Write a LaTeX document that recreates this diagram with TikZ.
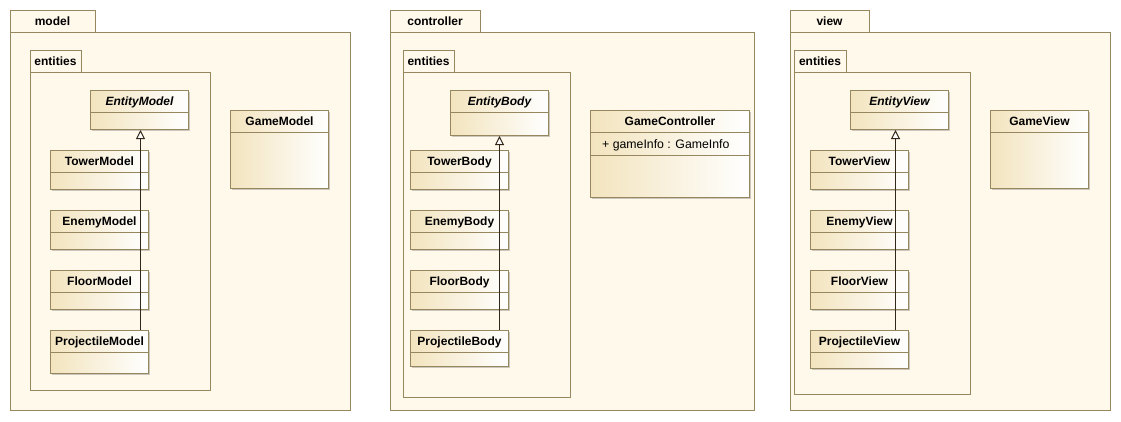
\documentclass[tikz,border=0pt]{standalone}
\usepackage{fontspec}
\setmainfont{Liberation Sans}
\usetikzlibrary{arrows.meta,calc,shadows}
\definecolor{pkgfill}{RGB}{255,249,235}
\definecolor{pkgline}{RGB}{150,135,95}
\definecolor{clsleft}{RGB}{243,228,190}
\definecolor{inkline}{RGB}{50,40,25}
\tikzset{
  pkg/.style={draw=pkgline, fill=pkgfill, line width=1pt, anchor=north west, inner sep=0pt},
  pkgtab/.style={pkg, font=\bfseries\fontsize{12}{14}\selectfont, anchor=center},
  cls/.style={draw=pkgline, line width=1pt, left color=clsleft, right color=white, anchor=north west, inner sep=0pt,
    drop shadow={shadow xshift=1.5pt, shadow yshift=-1.5pt, fill=black, opacity=0.2}},
  clsname/.style={font=\bfseries\fontsize{12}{14}\selectfont, inner sep=0pt, anchor=base},
  attr/.style={font=\fontsize{12.3}{14}\selectfont, inner sep=0pt, anchor=base west},
  divider/.style={draw=pkgline, line width=1pt},
  inh/.style={draw=inkline, line width=1pt, -{Triangle[length=9pt, width=9pt, fill=white]}}
}
% #1 name, #2 x, #3 y, #4 w, #5 h, #6 title
\newcommand\umlcls[6]{%
  \node[cls, minimum width=#4pt, minimum height=#5pt] (#1) at (#2,#3) {};
  \node[clsname] (#1-t) at ($(#1.north)+(0,15)$) {#6};
  \draw[divider] ($(#1.north west)+(0,22)$) -- ($(#1.north east)+(0,22)$);
}
\begin{document}
\begin{tikzpicture}[x=1pt,y=-1pt]
\useasboundingbox (0,0) rectangle (1121,421);

% ---------------- model ----------------
\node[pkg, minimum width=340pt, minimum height=378pt] (mbody) at (10,32) {};
\node[pkgtab, minimum width=85pt, minimum height=22pt] (mtab) at (52.5,21) {model};
\node[pkg, minimum width=180pt, minimum height=318pt] (mebody) at (30,72) {};
\node[pkgtab, minimum width=51pt, minimum height=22pt] (metab) at (55.5,61) {entities};
\umlcls{em}{90}{90}{98}{39}{\itshape EntityModel}
\umlcls{tm}{50}{150}{98}{39}{TowerModel}
\umlcls{enm}{50}{210}{98}{39}{EnemyModel}
\umlcls{fm}{50}{270}{98}{39}{FloorModel}
\umlcls{pm}{50}{330}{98}{43}{ProjectileModel}
\umlcls{gm}{230}{110}{98}{78}{GameModel}
\coordinate (mx) at ($(em.south)+(1,0)$);
\draw[inh] (pm.north -| mx) -- (mx);

% ---------------- controller ----------------
\node[pkg, minimum width=364pt, minimum height=378pt] (cbody) at (390,32) {};
\node[pkgtab, minimum width=90pt, minimum height=22pt] (ctab) at (435,21) {controller};
\node[pkg, minimum width=167pt, minimum height=325pt] (cebody) at (403,72) {};
\node[pkgtab, minimum width=51pt, minimum height=22pt] (cetab) at (428.5,61) {entities};
\umlcls{eb}{450}{90}{98}{45}{\itshape EntityBody}
\umlcls{tb}{410}{150}{98}{39}{TowerBody}
\umlcls{enb}{410}{210}{98}{39}{EnemyBody}
\umlcls{fb}{410}{270}{98}{39}{FloorBody}
\umlcls{pb}{410}{330}{98}{36}{ProjectileBody}
\umlcls{gc}{590}{110}{159}{87}{GameController}
\draw[divider] ($(gc.north west)+(0,45)$) -- ($(gc.north east)+(0,45)$);
\node[attr] (gcattr) at ($(gc.north west)+(12,38)$) {+ gameInfo : GameInfo};
\draw[inh] (pb.north -| eb.south) -- (eb.south);

% ---------------- view ----------------
\node[pkg, minimum width=320pt, minimum height=378pt] (vbody) at (790,32) {};
\node[pkgtab, minimum width=79pt, minimum height=22pt] (vtab) at (829.5,21) {view};
\node[pkg, minimum width=176pt, minimum height=322pt] (vebody) at (794,72) {};
\node[pkgtab, minimum width=52pt, minimum height=22pt] (vetab) at (820,61) {entities};
\umlcls{ev}{850}{90}{98}{39}{\itshape EntityView}
\umlcls{tv}{810}{150}{98}{39}{TowerView}
\umlcls{env}{810}{210}{98}{39}{EnemyView}
\umlcls{fv}{810}{270}{98}{39}{FloorView}
\umlcls{pv}{810}{330}{98}{38}{ProjectileView}
\umlcls{gv}{990}{110}{98}{78}{GameView}
\coordinate (vx) at ($(ev.south)+(-4,0)$);
\draw[inh] (pv.north -| vx) -- (vx);
\end{tikzpicture}
\end{document}
